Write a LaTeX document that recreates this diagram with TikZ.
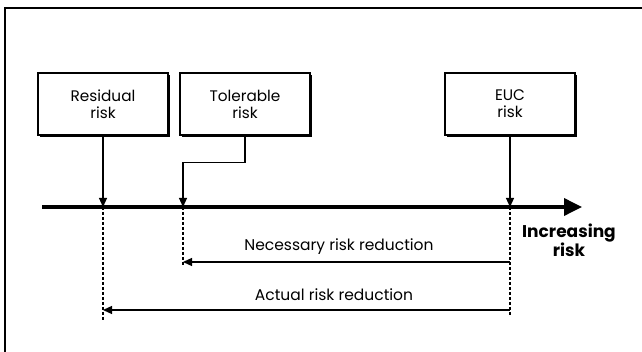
\documentclass[tikz,border=0pt]{standalone}
\usepackage{fontspec}
\setmainfont{Poppins}
\usetikzlibrary{arrows.meta}
\usetikzlibrary{shadows}

\tikzset{
  riskbox/.style = {draw=black, line width=1.1pt, fill=white, minimum width=130pt, minimum height=62pt,
    align=center, inner sep=0pt, font=\fontsize{15.3}{17}\selectfont,
    drop shadow={shadow xshift=2.2pt, shadow yshift=-2.2pt, fill=black, opacity=1}},
  pointer/.style = {line width=1.2pt, -{Triangle[length=9pt, width=8pt]}},
  guide/.style = {line width=1.3pt, dash pattern=on 3pt off 2pt},
  reductiontext/.style = {font=\fontsize{15.5}{17}\selectfont}
}

\begin{document}
\begin{tikzpicture}[x = 1pt, y = -1pt]
\useasboundingbox (0, 0) rectangle (642, 352);
%draw frame
\draw [line width=1.8pt] (5, 352) to (5, 8) to (642, 8);

%draw boxes
\node [riskbox] (residual) at (103, 104) {Residual\\risk};
\node [riskbox] (tolerable) at (245, 104) {Tolerable\\risk};
\node [riskbox] (euc) at (510, 104) {EUC\\risk};

%draw axis
\coordinate (axisL) at (42, 207);
\coordinate (axisR) at (582, 207);
\draw [line width=3.6pt, -{Triangle[length=18pt, width=17pt]}] (axisL) to (axisR);
\node [font=\bfseries\fontsize{17}{16}\selectfont, align=center] (increasing) at (569, 240) {Increasing\\risk};

%draw pointers
\draw [pointer] (residual.south) to (residual.south |- axisL);
\draw [pointer] (tolerable.south) to ([yshift=-27pt]tolerable.south) -| (183, 207);
\draw [pointer] (euc.south) to (euc.south |- axisL);

%draw guides
\coordinate (nec) at (0, 262);
\coordinate (act) at (0, 310);
\draw [guide] (residual.south |- axisL) to ([yshift=-10pt]residual.south |- act);
\draw [guide] (183, 207) to (183, 266);
\draw [guide] (euc.south |- axisL) to ([yshift=-5pt]euc.south |- act);

%draw reductions
\draw [pointer] (euc.south |- nec) to (183, 262);
\draw [pointer] (euc.south |- act) to (residual.south |- act);
\node [reductiontext] (necessary) at (339, 247) {Necessary risk reduction};
\node [reductiontext] (actual) at (334, 295) {Actual risk reduction};

\end{tikzpicture}
\end{document}
